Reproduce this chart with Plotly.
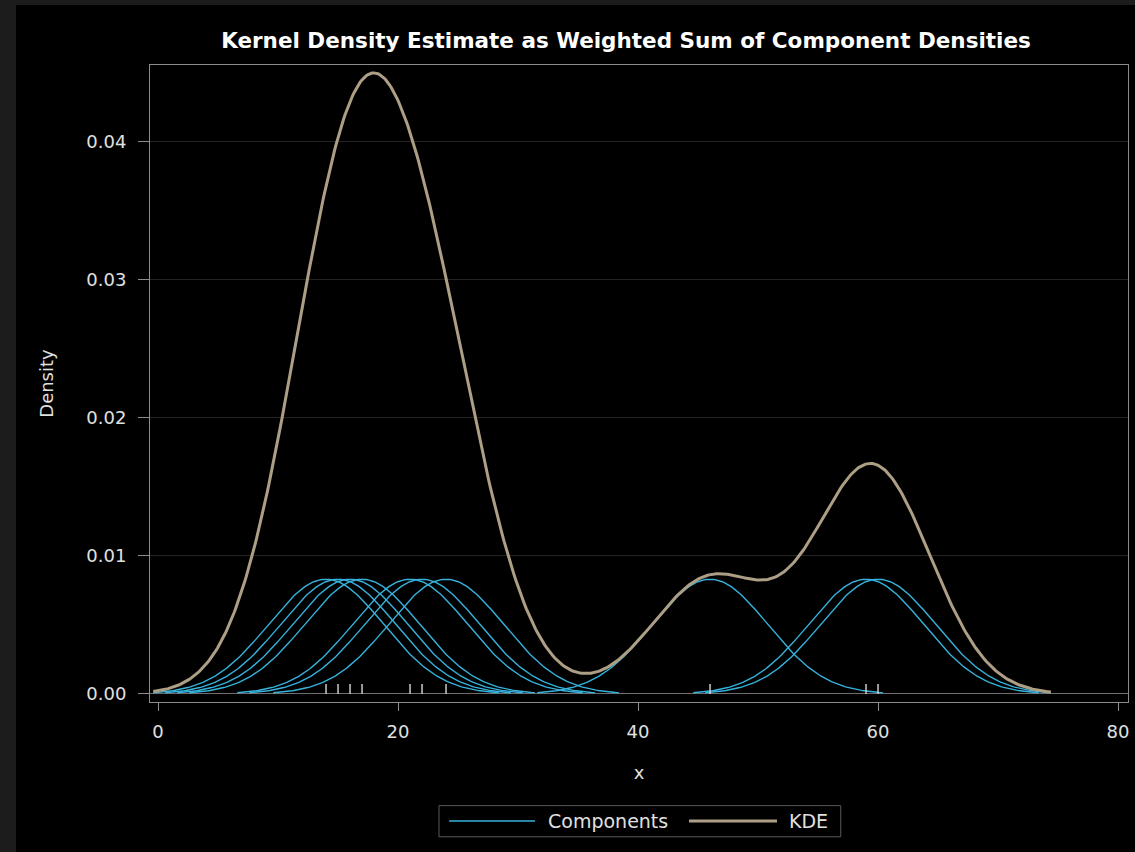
import numpy as np
import plotly.graph_objects as go

# ---- data ----
observations = [14, 15, 16, 17, 21, 22, 24, 46, 59, 60]
bandwidth = 4.8
x_tick_vals = [0, 20, 40, 60, 80]
y_tick_vals = [0.00, 0.01, 0.02, 0.03, 0.04]
y_tick_text = ["0.00", "0.01", "0.02", "0.03", "0.04"]
series_names = ["Components", "KDE"]

COMP_COLOR = "#36b2dc"
KDE_COLOR = "#ad9e86"
RUG_COLOR = "#d8d8d8"
FONT = "DejaVu Sans, Liberation Sans, Arial, sans-serif"
TXT = "#e0e0e0"

n = len(observations)
obs = np.array(observations, dtype=float)


def kernel(x, center):
    return np.exp(-0.5 * ((x - center) / bandwidth) ** 2) / (n * bandwidth * np.sqrt(2 * np.pi))


fig = go.Figure()

# component densities, each over +/- 3 bandwidths
for i, c in enumerate(obs):
    xs = np.linspace(c - 3 * bandwidth, c + 3 * bandwidth, 201)
    fig.add_trace(go.Scatter(
        x=xs, y=kernel(xs, c), mode="lines",
        line=dict(color=COMP_COLOR, width=1.4),
        name=series_names[0], showlegend=False, hoverinfo="skip"))

# KDE as the sum of components
xk = np.linspace(obs.min() - 3 * bandwidth, obs.max() + 3 * bandwidth, 600)
yk = sum(kernel(xk, c) for c in obs)
fig.add_trace(go.Scatter(
    x=xk, y=yk, mode="lines",
    line=dict(color=KDE_COLOR, width=3),
    name=series_names[1], showlegend=False))

# rug of observations
rug_x, rug_y = [], []
for c in observations:
    rug_x += [c, c, None]
    rug_y += [0, 0.00072, None]
fig.add_trace(go.Scatter(
    x=rug_x, y=rug_y, mode="lines",
    line=dict(color=RUG_COLOR, width=1.4),
    showlegend=False, hoverinfo="skip"))

# ---- outer frame: grey strip at top/left, black panel ----
shapes = [
    dict(type="rect", xref="paper", yref="paper", layer="below",
         x0=-0.137, x1=1.02, y0=-0.25, y1=1.094,
         fillcolor="black", line=dict(width=0)),
]

# ---- custom legend ----
ly = -0.1868
shapes += [
    dict(type="rect", xref="paper", yref="paper",
         x0=0.2955, x1=0.7063, y0=-0.2116, y1=-0.1627,
         line=dict(color="#5a5a5a", width=1), fillcolor="rgba(0,0,0,0)"),
    dict(type="line", xref="paper", yref="paper",
         x0=0.3058, x1=0.3937, y0=ly, y1=ly,
         line=dict(color=COMP_COLOR, width=1.4)),
    dict(type="line", xref="paper", yref="paper",
         x0=0.5511, x1=0.6411, y0=ly, y1=ly,
         line=dict(color=KDE_COLOR, width=3)),
]
annotations = [
    dict(xref="paper", yref="paper", x=0.4049, y=ly, xanchor="left", yanchor="middle",
         text=series_names[0], showarrow=False, font=dict(family=FONT, size=19, color=TXT)),
    dict(xref="paper", yref="paper", x=0.6513, y=ly, xanchor="left", yanchor="middle",
         text=series_names[1], showarrow=False, font=dict(family=FONT, size=19, color=TXT)),
]

fig.update_layout(
    width=1135, height=852,
    margin=dict(l=150, r=7, t=65, b=150),
    paper_bgcolor="#1c1c1c",
    plot_bgcolor="black",
    showlegend=False,
    shapes=shapes,
    annotations=annotations,
    title=dict(
        text="<b>Kernel Density Estimate as Weighted Sum of Component Densities</b>",
        x=0.4867, xref="paper", xanchor="center",
        y=1 - 40 / 852, yref="container", yanchor="middle",
        font=dict(family=FONT, size=21.5, color="white")),
    font=dict(family=FONT, color=TXT),
)

fig.update_xaxes(
    range=[-0.67, 80.83],
    tickvals=x_tick_vals,
    ticks="outside", ticklen=8, tickcolor="#8c8c8c", tickwidth=1,
    ticklabelstandoff=5,
    tickfont=dict(family=FONT, size=18, color=TXT),
    showline=True, linecolor="#8c8c8c", linewidth=1, mirror=True,
    showgrid=False, zeroline=False,
    title=dict(text="x", font=dict(family=FONT, size=18, color=TXT), standoff=25),
)
fig.update_yaxes(
    range=[-0.00058, 0.04555],
    tickvals=y_tick_vals, ticktext=y_tick_text,
    ticks="outside", ticklen=11, tickcolor="#8c8c8c", tickwidth=1,
    ticklabelstandoff=8,
    tickfont=dict(family=FONT, size=18, color=TXT),
    showline=True, linecolor="#8c8c8c", linewidth=1, mirror=True,
    showgrid=True, gridcolor="#232323", gridwidth=1,
    zeroline=True, zerolinecolor="#6e6e6e", zerolinewidth=1,
    title=dict(text="Density", font=dict(family=FONT, size=18, color=TXT), standoff=28),
)

fig.write_html("out.html")
